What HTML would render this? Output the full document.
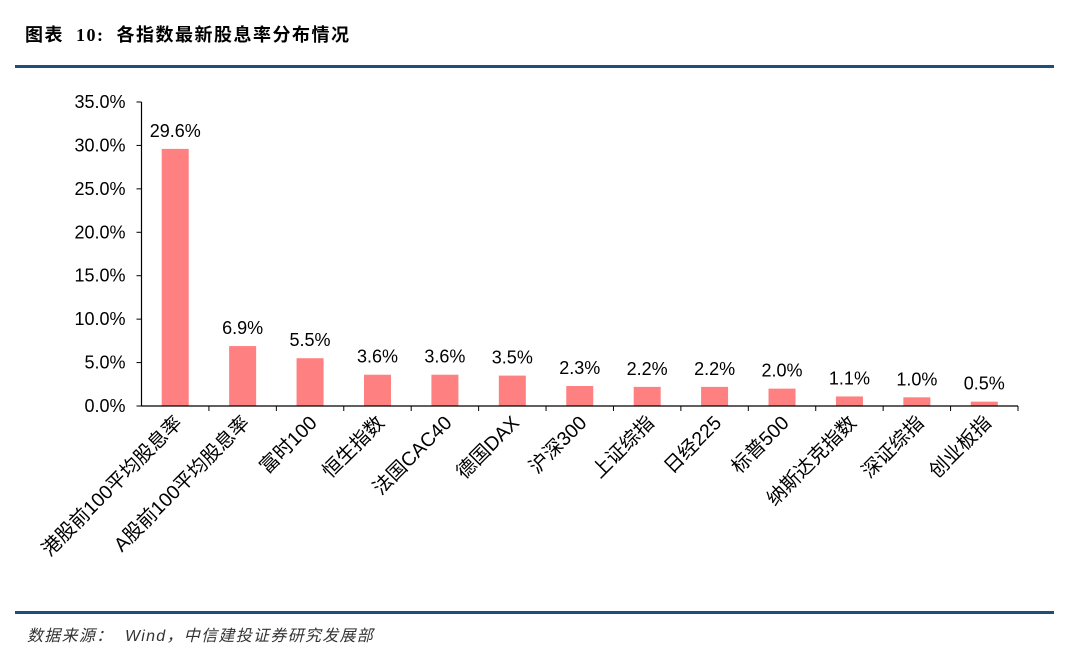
<!DOCTYPE html>
<html><head><meta charset="utf-8"><style>
body{margin:0;width:1080px;height:650px;background:#fff;overflow:hidden;font-family:"Liberation Sans","Noto Sans CJK SC",sans-serif;}
.t{position:absolute;left:25px;top:21px;font-size:18px;font-weight:bold;color:#000;font-family:"Liberation Serif","Noto Sans CJK SC",serif;letter-spacing:1.5px;white-space:pre;}
.ln{position:absolute;left:15px;width:1039px;height:3px;background:#1f4e79;}
.src{position:absolute;left:27px;top:622px;font-size:16px;font-style:italic;color:#333;letter-spacing:1.3px;white-space:pre;}
</style></head><body>
<div class="t">图表  10:  各指数最新股息率分布情况</div>
<div class="ln" style="top:65px"></div>
<svg id="c" width="1080" height="650" style="position:absolute;left:0;top:0"></svg>
<div class="ln" style="top:611px"></div>
<div class="src">数据来源：  Wind，中信建投证券研究发展部</div>
<script>
const categories=["港股前100平均股息率","A股前100平均股息率","富时100","恒生指数","法国CAC40","德国DAX","沪深300","上证综指","日经225","标普500","纳斯达克指数","深证综指","创业板指"];
const values=[29.6,6.9,5.5,3.6,3.6,3.5,2.3,2.2,2.2,2.0,1.1,1.0,0.5];
const yTicks=[0,5,10,15,20,25,30,35];
const NS="http://www.w3.org/2000/svg",svg=document.getElementById('c');
const x0=141.5,x1=1018,y0=406,yTop=102,yMax=35;
const bw=(x1-x0)/categories.length;
const Y=v=>y0-(v/yMax)*(y0-yTop);
const X=i=>x0+bw*(i+0.5);
function mk(t,a){const e=document.createElementNS(NS,t);for(const k in a)e.setAttribute(k,a[k]);svg.appendChild(e);return e;}
yTicks.forEach(v=>{
const l=mk('line',{x1:x0-5,x2:x0,y1:Y(v),y2:Y(v),stroke:'#000'});


const t=mk('text',{x:x0-16,y:Y(v)+6,'text-anchor':'end','font-size':18,fill:'#000'});
t.textContent=v.toFixed(1)+'%';


});
values.forEach((v,i)=>{
const r=mk('rect',{x:X(i)-13.5,y:Y(v),width:27,height:y0-Y(v),fill:'#ff8080'});


const t=mk('text',{x:X(i),y:Y(v)-12,'text-anchor':'middle','font-size':18,fill:'#000'});
t.textContent=v.toFixed(1)+'%';


const c=mk('text',{x:0,y:0,'text-anchor':'end','font-size':19.5,fill:'#000',transform:`translate(${X(i)+8},${y0+18}) rotate(-45)`});
c.textContent=categories[i];


});
for(let i=1;i<=categories.length;i++){
const tk=mk('line',{x1:x0+bw*i,x2:x0+bw*i,y1:y0,y2:y0+5,stroke:'#000'});


}
const ya=mk('line',{x1:x0,x2:x0,y1:yTop,y2:y0,stroke:'#000','stroke-width':1.2});


const xa=mk('line',{x1:x0,x2:x1,y1:y0,y2:y0,stroke:'#000','stroke-width':1.2});


</script>
</body></html>
